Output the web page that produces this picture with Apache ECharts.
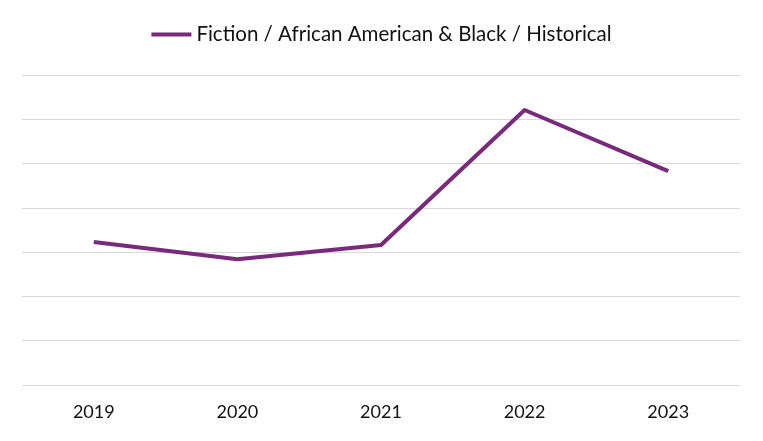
<!DOCTYPE html>
<html>
<head>
<meta charset="utf-8">
<script src="https://cdn.jsdelivr.net/npm/echarts@6/dist/echarts.min.js"></script>
<style>
html,body{margin:0;padding:0;background:#fff;}
#chart{width:763px;height:441px;}
</style>
</head>
<body>
<div id="chart"></div>
<script>
const categories = ['2019', '2020', '2021', '2022', '2023'];
const seriesName = 'Fiction / African American & Black / Historical';
const seriesValues = [3.23, 2.84, 3.16, 6.21, 4.83];

const chart = echarts.init(document.getElementById('chart'));
chart.setOption({
  animation: false,
  backgroundColor: '#ffffff',
  legend: {
    top: 19,
    left: 'center',
    itemWidth: 40,
    itemHeight: 4,
    itemGap: 10,
    icon: 'rect',
    textStyle: { fontFamily: 'Lato', fontSize: 20.5, color: '#111' },
    data: [seriesName]
  },
  grid: { left: 22, right: 23, top: 75, bottom: 56, containLabel: false },
  xAxis: {
    type: 'category',
    data: categories,
    boundaryGap: true,
    axisLine: { show: false },
    axisTick: { show: false },
    axisLabel: { fontFamily: 'Lato', fontSize: 18, color: '#111', margin: 18 }
  },
  yAxis: {
    type: 'value',
    min: 0,
    max: 7,
    interval: 1,
    axisLabel: { show: false },
    axisLine: { show: false },
    axisTick: { show: false },
    splitLine: { lineStyle: { color: '#d9d9d9', width: 1 } }
  },
  series: [{
    name: seriesName,
    type: 'line',
    data: seriesValues,
    symbol: 'none',
    lineStyle: { color: '#772B7A', width: 4, join: 'round' },
    itemStyle: { color: '#772B7A' }
  }]
});
</script>
</body>
</html>
